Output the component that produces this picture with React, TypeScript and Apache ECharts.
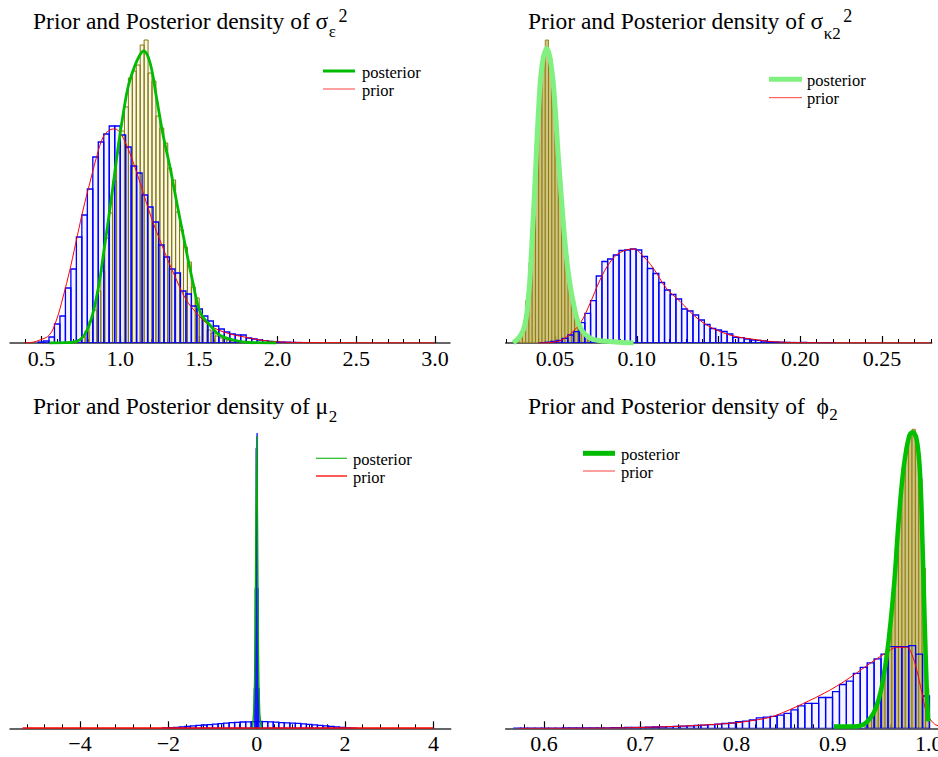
import React, { useEffect, useRef } from 'react';
import * as echarts from 'echarts';

const FONT = '"Liberation Serif", "Times New Roman", Times, serif';

// ---------- Panel 1: sigma_eps^2 ----------
const epsTicks = [0.5, 1.0, 1.5, 2.0, 2.5, 3.0];
const epsPriorStart = 0.478;
const epsPriorWidth = 0.0348;
const epsPriorHeights = [0.01, 0.02, 0.06, 0.19, 0.27, 0.55, 0.74, 1.06, 1.28, 1.54, 1.86, 2.01, 2.09, 2.17, 2.17, 2.08, 1.96, 1.77, 1.7, 1.48, 1.36, 1.21, 0.98, 0.86, 0.74, 0.7, 0.52, 0.49, 0.37, 0.34, 0.27, 0.22, 0.17, 0.14, 0.11, 0.09, 0.08, 0.08, 0.05, 0.04, 0.03, 0.023, 0.017, 0.012, 0.01, 0.008, 0.006, 0.005, 0.004, 0.003];
const epsPostStart = 0.727;
const epsPostWidth = 0.025;
const epsPostHeights = [0.03, 0.06, 0.12, 0.22, 0.33, 0.52, 0.72, 1.05, 1.3, 1.62, 1.9, 2.12, 2.36, 2.65, 2.72, 2.78, 2.98, 3.03, 2.7, 2.62, 2.27, 2.15, 2.0, 1.75, 1.63, 1.31, 1.13, 0.96, 0.81, 0.56, 0.45, 0.26, 0.23, 0.13, 0.1, 0.07, 0.05, 0.04, 0.03, 0.02, 0.015, 0.01, 0.008, 0.005];
const epsPosteriorCurve = [[0.55, 0], [0.65, 0.003], [0.72, 0.013], [0.79, 0.13], [0.85, 0.46], [0.9, 0.96], [0.945, 1.46], [0.987, 1.96], [1.02, 2.3], [1.05, 2.56], [1.09, 2.76], [1.125, 2.88], [1.15, 2.92], [1.19, 2.8], [1.23, 2.46], [1.27, 2.1], [1.316, 1.76], [1.36, 1.4], [1.4, 1.08], [1.46, 0.62], [1.51, 0.3], [1.57, 0.18], [1.63, 0.08], [1.72, 0.03], [1.82, 0.005], [1.99, 0]];
const epsPriorCurve = [[0.39, 0], [0.45, 0.01], [0.49, 0.03], [0.55, 0.08], [0.595, 0.23], [0.637, 0.46], [0.68, 0.73], [0.722, 1.03], [0.764, 1.33], [0.807, 1.6], [0.85, 1.86], [0.892, 2.06], [0.934, 2.13], [0.966, 2.14], [1.0, 2.1], [1.04, 1.98], [1.082, 1.81], [1.125, 1.61], [1.167, 1.4], [1.21, 1.2], [1.252, 1.03], [1.295, 0.86], [1.358, 0.63], [1.42, 0.43], [1.485, 0.3], [1.547, 0.2], [1.61, 0.14], [1.7, 0.09], [1.78, 0.063], [1.89, 0.03], [2.0, 0.012], [2.15, 0.005], [2.5, 0.002], [3.0, 0.001]];

// ---------- Panel 2: sigma_kappa2^2 ----------
const kapTicks = [0.05, 0.1, 0.15, 0.2, 0.25];
const kapPriorStart = 0.0404;
const kapPriorWidth = 0.00348;
const kapPriorHeights = [0.05, 0.15, 0.3, 0.5, 0.94, 1.6, 2.26, 4.06, 5.94, 8.46, 13.4, 16.3, 16.8, 17.6, 18.5, 18.6, 18.8, 18.6, 17.3, 14.9, 13.9, 12.1, 10.6, 9.7, 8.8, 6.8, 6.4, 5.6, 4.6, 3.7, 2.9, 2.6, 2.3, 1.8, 1.14, 1.06, 0.8, 0.6, 0.54, 0.4, 0.26, 0.2, 0.15, 0.12, 0.1, 0.08, 0.12, 0.05, 0.04, 0.03, 0.03, 0.02];
const kapPostStart = 0.028;
const kapPostWidth = 0.002;
const kapPostHeights = [1.0, 3.2, 8.5, 16, 27, 40, 51, 57.5, 60.6, 57, 51, 42, 33, 24, 17.5, 12, 8.5, 5.5, 3.5, 2.5, 1.6, 1.0, 0.6, 0.4];
const kapPosteriorCurve = [[0.0245, 0], [0.0306, 2.6], [0.0337, 9.2], [0.0357, 19.2], [0.0378, 32.6], [0.0398, 46], [0.0419, 55.2], [0.0449, 58.9], [0.048, 54.6], [0.05, 47.2], [0.052, 37.2], [0.0541, 28], [0.0561, 20], [0.0581, 14], [0.0612, 8], [0.0653, 3.2], [0.0714, 1], [0.0816, 0.34], [0.098, 0]];
const kapPriorCurve = [[0.04, 0], [0.05, 0.2], [0.0572, 1.26], [0.0653, 3.94], [0.0714, 7.94], [0.0775, 12.6], [0.0837, 16.2], [0.0898, 18.1], [0.098, 18.8], [0.104, 17.3], [0.11, 15.0], [0.118, 11.0], [0.1265, 8.3], [0.1347, 5.6], [0.1428, 3.6], [0.151, 2.3], [0.1592, 1.4], [0.1714, 0.74], [0.1837, 0.26], [0.204, 0.06], [0.28, 0.01]];

// ---------- Panel 3: mu_2 ----------
const muTicks = [-4, -2, 0, 2, 4];
const muPriorStart = -2.125;
const muPriorWidth = 0.125;
const muPriorHeights = [0.03, 0.06, 0.1, 0.15, 0.2, 0.24, 0.29, 0.33, 0.37, 0.42, 0.46, 0.52, 0.56, 0.6, 0.63, 0.65, 0.67, 0.68, 0.66, 0.64, 0.61, 0.57, 0.55, 0.52, 0.49, 0.44, 0.4, 0.35, 0.29, 0.24, 0.2, 0.15, 0.09, 0.04, 0.02];
const muPostStart = -0.06;
const muPostWidth = 0.02;
const muPostHeights = [4, 14, 28, 29.5, 14, 4];
const muPosteriorCurve = [[-0.1, 0], [-0.07, 1.5], [-0.05, 4.5], [-0.035, 10], [-0.018, 21], [0, 29.2], [0.018, 21], [0.035, 10], [0.05, 4.5], [0.07, 1.5], [0.1, 0]];
const muPriorCurve = [[-5.3, 0.02], [-4, 0.03], [-2, 0.04], [0, 0.04], [2, 0.04], [4, 0.03]];

// ---------- Panel 4: phi_2 ----------
const phiTicks = [0.6, 0.7, 0.8, 0.9, 1.0];
const phiPriorStart = 0.5687;
const phiPriorWidth = 0.0072;
const phiPriorHeights = [0.01, 0.01, 0.01, 0.01, 0.02, 0.02, 0.02, 0.03, 0.03, 0.03, 0.04, 0.04, 0.05, 0.05, 0.06, 0.07, 0.08, 0.09, 0.1, 0.11, 0.13, 0.15, 0.17, 0.19, 0.22, 0.25, 0.28, 0.32, 0.36, 0.42, 0.48, 0.53, 0.67, 0.72, 0.83, 1.05, 1.12, 1.2, 1.32, 1.5, 1.85, 2.25, 2.5, 2.5, 3.08, 3.08, 3.67, 4.38, 4.72, 5.5, 6.1, 6.55, 6.95, 7.42, 8.17, 8.17, 8.17, 8.27, 7.42, 3.23];
const phiPostStart = 0.9335;
const phiPostWidth = 0.0035;
const phiPostHeights = [0.6, 1.0, 1.5, 2.2, 3.5, 5.0, 7.4, 10.2, 13.6, 18.0, 22.4, 26.0, 28.2, 29.5, 29.9, 28.5, 25.0, 16.0, 4.0];
const phiPosteriorCurve = [[0.9014, 0.17], [0.922, 0.17], [0.936, 0.67], [0.9466, 2.5], [0.9535, 5.5], [0.9587, 9.2], [0.964, 14.5], [0.969, 21.2], [0.974, 26.2], [0.9795, 29.2], [0.983, 29.6], [0.9875, 28.8], [0.991, 25.2], [0.9934, 18.5], [0.9958, 10.2], [0.998, 3.5], [0.9993, 0.7]];
const phiPriorCurve = [[0.573, 0], [0.66, 0.02], [0.73, 0.17], [0.766, 0.33], [0.8, 0.56], [0.818, 0.8], [0.835, 1.1], [0.849, 1.6], [0.87, 2.5], [0.887, 3.3], [0.904, 4.2], [0.9215, 5.3], [0.939, 6.5], [0.953, 7.4], [0.963, 8.0], [0.9667, 8.1], [0.977, 8.1], [0.9823, 7.4], [0.9875, 5.8], [0.9927, 3.6], [0.998, 1.5], [1.005, 0.5], [1.01, 0.25], [1.02, 0.05]];

function histData(start: number, width: number, heights: number[]) {
  return heights.map((h, i) => [start + i * width, start + (i + 1) * width, h]);
}

function stepList(a: number, b: number, step: number) {
  const out: number[] = [];
  const n = Math.round((b - a) / step);
  for (let i = 0; i <= n; i++) out.push(Math.round((a + i * step) * 10000) / 10000);
  return out;
}

function histSeries(idx: number, data: number[][], fill: string, stroke: string, lw: number) {
  return {
    type: 'custom',
    xAxisIndex: idx * 2,
    yAxisIndex: idx,
    data,
    encode: { x: [0, 1], y: 2 },
    clip: true,
    silent: true,
    renderItem: (params: any, api: any) => {
      const a = api.coord([api.value(0), 0]);
      const b = api.coord([api.value(1), api.value(2)]);
      return {
        type: 'rect',
        shape: { x: a[0], y: b[1], width: b[0] - a[0], height: a[1] - b[1] },
        style: { fill, stroke, lineWidth: lw },
      };
    },
  };
}

function lineSeries(idx: number, data: number[][], color: string, width: number, smooth: any) {
  return {
    type: 'line',
    xAxisIndex: idx * 2,
    yAxisIndex: idx,
    data,
    showSymbol: false,
    symbol: 'none',
    smooth,
    clip: true,
    silent: true,
    lineStyle: { color, width },
  };
}

function majorAxis(idx: number, min: number, max: number, ticks: number[], fmt: (v: number) => string) {
  return {
    type: 'value',
    gridIndex: idx,
    min,
    max,
    position: 'bottom',
    axisLine: { show: true, onZero: false, lineStyle: { color: '#333', width: 1.5 } },
    axisTick: { show: true, inside: true, length: 7, customValues: ticks, lineStyle: { color: '#000', width: 1.2 } },
    axisLabel: {
      show: true,
      customValues: ticks,
      formatter: fmt,
      fontFamily: 'Liberation Serif',
      fontSize: 22,
      color: '#000',
      margin: 4,
    },
    splitLine: { show: false },
  };
}

function minorAxis(idx: number, min: number, max: number, ticks: number[]) {
  return {
    type: 'value',
    gridIndex: idx,
    min,
    max,
    position: 'bottom',
    axisLine: { show: false, onZero: false },
    axisTick: { show: true, inside: true, length: 4, customValues: ticks, lineStyle: { color: '#000', width: 1 } },
    axisLabel: { show: false },
    splitLine: { show: false },
  };
}

function measure(text: string, size: number) {
  const c = document.createElement('canvas').getContext('2d');
  if (!c) return text.length * size * 0.45;
  c.font = size + 'px "Liberation Serif"';
  return c.measureText(text).width;
}

const MAIN_SIZE = 23.5;
const SMALL_SIZE = 17;

function tText(x: number, y: number, text: string, size: number) {
  return {
    type: 'text',
    x,
    y,
    silent: true,
    style: { text, fontFamily: 'Liberation Serif', fontSize: size, fill: '#000', verticalAlign: 'middle', align: 'left' },
  };
}

function titleGroup(x: number, yMain: number, main: string, sub: string, ySub: number, sup: string, ySup: number) {
  const w = measure(main, MAIN_SIZE);
  const els: any[] = [tText(x, yMain, main, MAIN_SIZE), tText(x + w + 0.5, ySub, sub, SMALL_SIZE)];
  if (sup) {
    const ws = measure(sub, SMALL_SIZE);
    els.push(tText(x + w + ws + 3, ySup, sup, SMALL_SIZE + 1));
  }
  return els;
}

function legendGroup(x1: number, x2: number, xt: number, y1: number, y2: number, post: any, prior: any) {
  const txt = (y: number, t: string) => ({
    type: 'text',
    x: xt,
    y: y + 1,
    silent: true,
    style: { text: t, fontFamily: 'Liberation Serif', fontSize: 16.5, fill: '#000', verticalAlign: 'middle', align: 'left' },
  });
  return [
    { type: 'line', silent: true, shape: { x1, y1, x2, y2: y1 }, style: { stroke: post.color, lineWidth: post.width } },
    txt(y1, 'posterior'),
    { type: 'line', silent: true, shape: { x1, y1: y2, x2, y2 }, style: { stroke: prior.color, lineWidth: prior.width } },
    txt(y2, 'prior'),
  ];
}

const BLUE_FILL = 'rgba(90,90,255,0.06)';
const BLUE = '#0000ff';
const OLIVE = '#857600';

export default function App() {
  const ref = useRef<HTMLDivElement>(null);
  useEffect(() => {
    if (!ref.current) return;
    const chart = echarts.init(ref.current, undefined, { renderer: 'svg' });
    const f1 = (v: number) => v.toFixed(1);
    const f2 = (v: number) => v.toFixed(2);
    const fInt = (v: number) => (v < 0 ? '\u2212' + Math.abs(v) : String(v));

    const option: any = {
      animation: false,
      backgroundColor: '#ffffff',
      textStyle: { fontFamily: FONT },
      grid: [
        { left: 10, top: 33, width: 440, height: 310 },
        { left: 505.7, top: 33, width: 426, height: 310 },
        { left: 10, top: 418.3, width: 440.7, height: 310 },
        { left: 505.7, top: 418.3, width: 452, height: 310 },
      ],
      xAxis: [
        majorAxis(0, 0.3, 3.095, epsTicks, f1),
        minorAxis(0, 0.3, 3.095, stepList(0.4, 3.0, 0.1)),
        majorAxis(1, 0.0198, 0.2804, kapTicks, f2),
        minorAxis(1, 0.0198, 0.2804, stepList(0.02, 0.28, 0.01)),
        majorAxis(2, -5.585, 4.392, muTicks, fInt),
        minorAxis(2, -5.585, 4.392, stepList(-5.2, 4.0, 0.4)),
        majorAxis(3, 0.5602, 1.03, phiTicks, f1),
        minorAxis(3, 0.5602, 1.03, stepList(0.58, 1.02, 0.02)),
      ],
      yAxis: [
        { type: 'value', gridIndex: 0, min: 0, max: 3.1, show: false },
        { type: 'value', gridIndex: 1, min: 0, max: 62, show: false },
        { type: 'value', gridIndex: 2, min: 0, max: 31, show: false },
        { type: 'value', gridIndex: 3, min: 0, max: 31, show: false },
      ],
      series: [
        // panel 1
        histSeries(0, histData(epsPostStart, epsPostWidth, epsPostHeights), 'rgba(200,190,110,0.12)', OLIVE, 1),
        histSeries(0, histData(epsPriorStart, epsPriorWidth, epsPriorHeights), BLUE_FILL, BLUE, 1.3),
        lineSeries(0, epsPriorCurve, '#ff0000', 1, 0.4),
        lineSeries(0, epsPosteriorCurve, '#00bb00', 2.8, 0.4),
        // panel 2
        histSeries(1, histData(kapPostStart, kapPostWidth, kapPostHeights), 'rgba(195,180,100,0.8)', OLIVE, 0.8),
        histSeries(1, histData(kapPriorStart, kapPriorWidth, kapPriorHeights), BLUE_FILL, BLUE, 1.3),
        lineSeries(1, kapPriorCurve, '#ff0000', 1, 0.4),
        lineSeries(1, kapPosteriorCurve, '#80f080', 5, 0.4),
        // panel 3
        histSeries(2, histData(muPriorStart, muPriorWidth, muPriorHeights), BLUE_FILL, BLUE, 1.3),
        histSeries(2, histData(muPostStart, muPostWidth, muPostHeights), 'rgba(0,0,255,0.5)', BLUE, 0.6),
        lineSeries(2, muPriorCurve, '#ff0000', 1.5, false),
        lineSeries(2, muPosteriorCurve, '#00aa00', 1.3, false),
        // panel 4
        histSeries(3, histData(phiPostStart, phiPostWidth, phiPostHeights), 'rgba(195,180,100,0.8)', OLIVE, 0.8),
        histSeries(3, histData(phiPriorStart, phiPriorWidth, phiPriorHeights), BLUE_FILL, BLUE, 1.3),
        lineSeries(3, phiPriorCurve, '#ff0000', 1, 0.4),
        lineSeries(3, phiPosteriorCurve, '#00c000', 4.5, 0.4),
      ],
      graphic: [
        ...titleGroup(33, 21, 'Prior and Posterior density of \u03c3', '\u03b5', 31.5, '2', 15.5),
        ...titleGroup(528, 21, 'Prior and Posterior density of \u03c3', '\u03ba2', 33.5, '2', 15.5),
        ...titleGroup(33, 405.5, 'Prior and Posterior density of \u03bc', '2', 416, '', 0),
        ...titleGroup(528, 405.5, 'Prior and Posterior density of  \u03d5', '2', 414.5, '', 0),
        ...legendGroup(323, 355, 362, 71, 89, { color: '#00bb00', width: 3 }, { color: '#ff4040', width: 1 }),
        ...legendGroup(769, 802, 807, 79.3, 97.7, { color: '#80f080', width: 5 }, { color: '#ff4040', width: 1 }),
        ...legendGroup(316, 347, 353, 458.3, 476, { color: '#22bb22', width: 1.2 }, { color: '#ff5a5a', width: 2 }),
        ...legendGroup(583, 615, 621, 453.3, 471, { color: '#00bb00', width: 5 }, { color: '#ff4040', width: 1 }),
      ],
    };
    chart.setOption(option);
    return () => chart.dispose();
  }, []);

  return (
    <div style={{ position: 'fixed', left: 0, top: 0, width: 938, height: 757, overflow: 'hidden', background: '#fff' }}>
      <div ref={ref} style={{ width: 1000, height: 757 }} />
    </div>
  );
}
